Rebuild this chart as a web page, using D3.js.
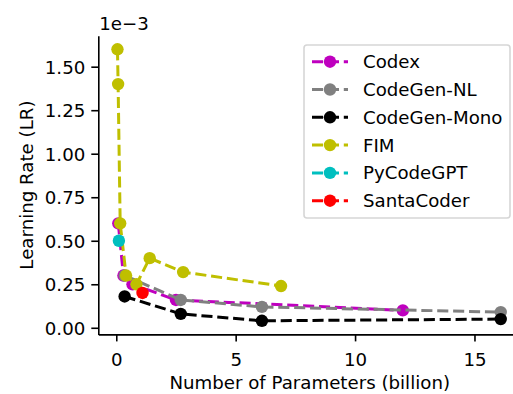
<!DOCTYPE html>
<html>
<head>
<meta charset="utf-8">
<script src="https://cdn.jsdelivr.net/npm/d3@7"></script>
<style>
  html, body { margin: 0; padding: 0; background: #fff; }
  svg { display: block; font-family: "DejaVu Sans", sans-serif; }
</style>
</head>
<body>
<svg id="chart" width="513" height="394"></svg>
<script>
// Model size (billions of parameters) and peak learning rate (x 1e-3)
const codexParams = [0.085, 0.3, 0.679, 2.5, 12];
const codexLR = [0.6, 0.3, 0.25, 0.16, 0.1];

const codegenNLParams = [0.35, 2.7, 6.1, 16.1];
const codegenNLLR = [0.3, 0.16, 0.12, 0.09];

const codegenMonoParams = [0.35, 2.7, 6.1, 16.1];
const codegenMonoLR = [0.18, 0.08, 0.04, 0.05];

const fimParams = [0.05, 0.077, 0.164, 0.411, 0.844, 1.4, 2.8, 6.9];
const fimLR = [1.6, 1.4, 0.6, 0.3, 0.25, 0.4, 0.32, 0.24];

const pyCodeGPTParams = [0.11];
const pyCodeGPTLR = [0.5];

const santaCoderParams = [1.1];
const santaCoderLR = [0.2];

const xTicks = [0, 5, 10, 15];
const yTicks = [0, 0.25, 0.5, 0.75, 1.0, 1.25, 1.5];

const series = [
  { name: "Codex", color: "#bf00bf", x: codexParams, y: codexLR },
  { name: "CodeGen-NL", color: "#808080", x: codegenNLParams, y: codegenNLLR },
  { name: "CodeGen-Mono", color: "#000000", x: codegenMonoParams, y: codegenMonoLR },
  { name: "FIM", color: "#bfbf00", x: fimParams, y: fimLR },
  { name: "PyCodeGPT", color: "#00bfbf", x: pyCodeGPTParams, y: pyCodeGPTLR },
  { name: "SantaCoder", color: "#ff0000", x: santaCoderParams, y: santaCoderLR }
];

const svg = d3.select("#chart");
const fontSize = 18.2;
const lineW = 3;
const dash = "11.1,4.8";
const markerR = 6.2;

// Plot area with 5% padding around the data extent
const allX = series.flatMap(s => s.x);
const allY = series.flatMap(s => s.y);
const [x0, x1] = d3.extent(allX);
const [y0, y1] = d3.extent(allY);
const xPad = (x1 - x0) * 0.05, yPad = (y1 - y0) * 0.05;

const plotLeft = 98.3, plotTop = 35.7, plotBottom = 334.4;
const pxPerUnit = 23.88;
const x = d3.scaleLinear()
  .domain([x0 - xPad, x1 + xPad])
  .range([plotLeft, plotLeft + (x1 - x0 + 2 * xPad) * pxPerUnit]);
const y = d3.scaleLinear()
  .domain([y0 - yPad, y1 + yPad])
  .range([plotBottom, plotTop]);

// Axes
const xAxis = svg.append("g")
  .attr("transform", `translate(0,${plotBottom})`)
  .call(d3.axisBottom(x).tickValues(xTicks).tickFormat(d3.format("d"))
    .tickSizeOuter(0).tickSizeInner(7).tickPadding(6));
const yAxis = svg.append("g")
  .attr("transform", `translate(${plotLeft},0)`)
  .call(d3.axisLeft(y).tickValues(yTicks).tickFormat(d3.format(".2f"))
    .tickSizeOuter(0).tickSizeInner(7).tickPadding(6));

[xAxis, yAxis].forEach(a => {
  a.select(".domain").attr("stroke", "#000").attr("stroke-width", 1.6);
  a.selectAll(".tick line").attr("stroke", "#000").attr("stroke-width", 1.6);
  a.selectAll(".tick text")
    .attr("font-family", "DejaVu Sans")
    .attr("font-size", fontSize)
    .attr("fill", "#000");
});
xAxis.selectAll(".tick text").attr("dy", null).attr("y", 31.5);
yAxis.selectAll(".tick text").attr("dy", "0.36em");

// Offset label above the y axis
svg.append("text")
  .attr("x", plotLeft + 1)
  .attr("y", 30)
  .attr("font-size", fontSize)
  .text("1e\u22123");

// Axis titles
svg.append("text")
  .attr("x", x(8.1))
  .attr("y", 389)
  .attr("text-anchor", "middle")
  .attr("font-size", fontSize)
  .text("Number of Parameters (billion)");
svg.append("text")
  .attr("transform", `translate(33,${(plotTop + plotBottom) / 2}) rotate(-90)`)
  .attr("text-anchor", "middle")
  .attr("font-size", fontSize)
  .text("Learning Rate (LR)");

// Series: dashed lines with circle markers
const line = d3.line().x(d => x(d[0])).y(d => y(d[1]));
const plot = svg.append("g");
series.forEach(s => {
  const pts = s.x.map((v, i) => [v, s.y[i]]);
  const g = plot.append("g");
  if (pts.length > 1) {
    g.append("path")
      .attr("d", line(pts))
      .attr("fill", "none")
      .attr("stroke", s.color)
      .attr("stroke-width", lineW)
      .attr("stroke-dasharray", dash);
  }
  g.selectAll("circle").data(pts).join("circle")
    .attr("cx", d => x(d[0]))
    .attr("cy", d => y(d[1]))
    .attr("r", markerR)
    .attr("fill", s.color);
});

// Legend
const legX = 304, legY = 45, legW = 206, legH = 173, rowH = 27.8;
const legend = svg.append("g");
legend.append("rect")
  .attr("x", legX).attr("y", legY)
  .attr("width", legW).attr("height", legH)
  .attr("rx", 3)
  .attr("fill", "rgba(255,255,255,0.8)")
  .attr("stroke", "#d6d6d6")
  .attr("stroke-width", 1.6);
series.forEach((s, i) => {
  const cy = legY + 16.7 + i * rowH;
  legend.append("line")
    .attr("x1", 312).attr("x2", 348)
    .attr("y1", cy).attr("y2", cy)
    .attr("stroke", s.color)
    .attr("stroke-width", lineW)
    .attr("stroke-dasharray", dash);
  legend.append("circle")
    .attr("cx", 330).attr("cy", cy).attr("r", markerR)
    .attr("fill", s.color);
  legend.append("text")
    .attr("x", 363).attr("y", cy)
    .attr("dy", "0.36em")
    .attr("font-size", fontSize)
    .text(s.name);
});
</script>
</body>
</html>
